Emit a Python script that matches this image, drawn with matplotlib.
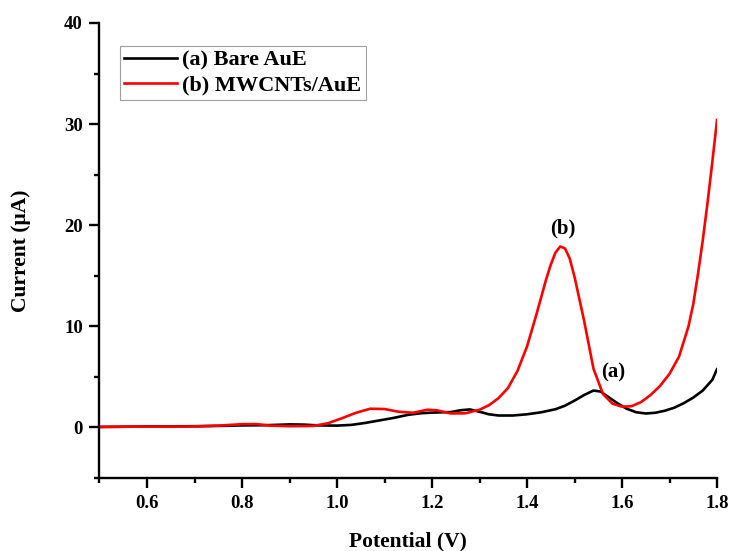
import matplotlib
matplotlib.use("Agg")
import matplotlib.pyplot as plt
from matplotlib.ticker import MultipleLocator, FormatStrFormatter

# Data
pot_a = [0.50, 0.55, 0.60, 0.65, 0.70, 0.75, 0.80, 0.85, 0.90, 0.93, 0.96, 1.00, 1.03, 1.06,
         1.09, 1.12, 1.15, 1.18, 1.21, 1.24, 1.26, 1.28, 1.30, 1.32, 1.34, 1.37, 1.40, 1.43,
         1.46, 1.48, 1.50, 1.52, 1.54, 1.555, 1.57, 1.59, 1.61, 1.63, 1.65, 1.67, 1.69, 1.71,
         1.73, 1.75, 1.77, 1.79, 1.80]
cur_a = [0.05, 0.07, 0.10, 0.10, 0.12, 0.15, 0.20, 0.22, 0.30, 0.28, 0.20, 0.18, 0.25, 0.45,
         0.70, 0.95, 1.25, 1.42, 1.48, 1.52, 1.70, 1.78, 1.55, 1.30, 1.18, 1.18, 1.30, 1.50,
         1.80, 2.15, 2.65, 3.20, 3.65, 3.55, 3.05, 2.40, 1.85, 1.50, 1.38, 1.45, 1.65, 1.95,
         2.40, 2.95, 3.65, 4.70, 5.75]

pot_b = [0.50, 0.55, 0.60, 0.65, 0.70, 0.75, 0.80, 0.83, 0.86, 0.90, 0.95, 0.98, 1.01, 1.04,
         1.07, 1.10, 1.13, 1.16, 1.19, 1.21, 1.24, 1.27, 1.30, 1.32, 1.34, 1.36, 1.38, 1.40,
         1.42, 1.44, 1.45, 1.46, 1.47, 1.48, 1.49, 1.50, 1.52, 1.54, 1.56, 1.58, 1.60, 1.62,
         1.64, 1.66, 1.68, 1.70, 1.72, 1.74, 1.75, 1.76, 1.77, 1.78, 1.79, 1.80]
cur_b = [0.05, 0.07, 0.08, 0.08, 0.10, 0.18, 0.32, 0.33, 0.18, 0.12, 0.15, 0.40, 0.90, 1.45,
         1.85, 1.82, 1.55, 1.45, 1.75, 1.70, 1.38, 1.40, 1.75, 2.20, 2.90, 3.90, 5.60, 8.00,
         11.2, 14.6, 16.1, 17.3, 17.9, 17.7, 16.7, 14.9, 10.6, 5.8, 3.3, 2.35, 2.05, 2.10,
         2.50, 3.20, 4.10, 5.30, 7.00, 10.0, 12.2, 15.2, 18.5, 22.2, 26.2, 30.4]

labels = ["(a) Bare AuE", "(b) MWCNTs/AuE"]
colors = ["black", "#ff0000"]

plt.rcParams['font.family'] = ['Liberation Serif', 'DejaVu Serif']
plt.rcParams['font.weight'] = 'bold'

fig = plt.figure(figsize=(7.30, 5.51), dpi=100)
ax = fig.add_axes([0.1363, 0.1325, 0.8459, 0.8258])

ax.plot(pot_a, cur_a, color=colors[0], lw=1.9, label=labels[0])
ax.plot(pot_b, cur_b, color=colors[1], lw=1.9, label=labels[1])

ax.set_xlim(0.5, 1.8)
ax.set_ylim(-5, 40)
ax.xaxis.set_major_locator(MultipleLocator(0.2))
ax.xaxis.set_minor_locator(MultipleLocator(0.1))
ax.yaxis.set_major_locator(MultipleLocator(10))
ax.yaxis.set_minor_locator(MultipleLocator(5))
ax.xaxis.set_major_formatter(FormatStrFormatter('%.1f'))

for s in ['top', 'right']:
    ax.spines[s].set_visible(False)
for s in ['left', 'bottom']:
    ax.spines[s].set_linewidth(1.7)

ax.tick_params(which='major', direction='out', length=7, width=1.7, labelsize=13.5, pad=5)
ax.tick_params(which='minor', direction='out', length=3.8, width=1.7)
for lbl in ax.get_xticklabels() + ax.get_yticklabels():
    lbl.set_fontweight('bold')

ax.set_xlabel('Potential (V)', fontsize=15.5, fontweight='bold', labelpad=14)
ax.set_ylabel('Current (μA)', fontsize=15.5, fontweight='bold', labelpad=24)

leg = ax.legend(loc='upper left', bbox_to_anchor=(0.033, 0.95), frameon=True, fancybox=False,
                edgecolor='#888888', fontsize=16, handlelength=2.35, handletextpad=0.25,
                borderpad=0.2, labelspacing=0.2, borderaxespad=0)
leg.get_frame().set_linewidth(0.8)
for t in leg.get_texts():
    t.set_fontweight('bold')

ax.text(1.476, 19.7, '(b)', fontsize=15, fontweight='bold', ha='center', va='center')
ax.text(1.581, 5.45, '(a)', fontsize=15, fontweight='bold', ha='center', va='center')

fig.savefig('out.png', dpi=100)
